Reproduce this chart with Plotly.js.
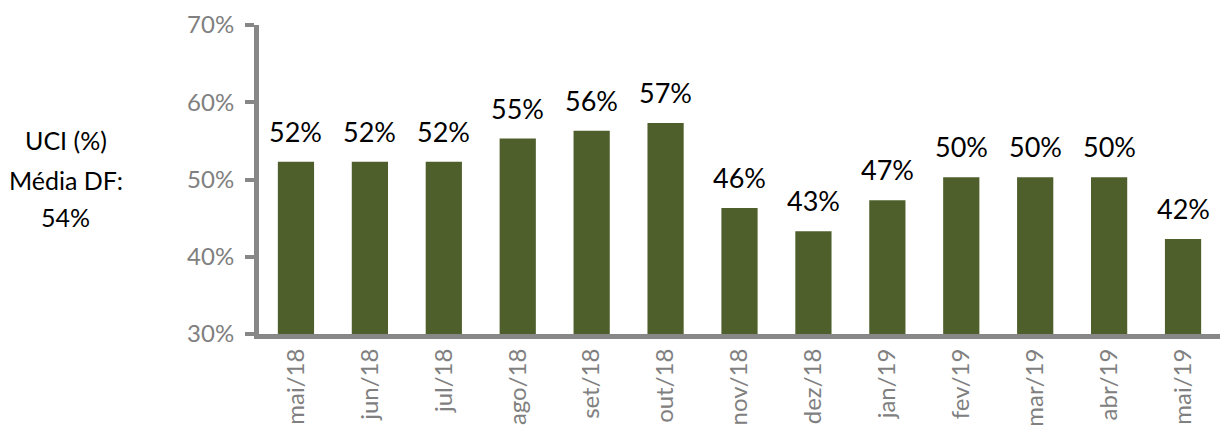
<!DOCTYPE html>
<html><head><meta charset="utf-8">
<script src="https://cdn.plot.ly/plotly-3.0.1.min.js"></script>
<style>html,body{margin:0;padding:0;background:#fff}#c{width:1220px;height:428px}</style>
</head><body><div id="c"></div>
<script>
const categories = ["mai/18","jun/18","jul/18","ago/18","set/18","out/18","nov/18","dez/18","jan/19","fev/19","mar/19","abr/19","mai/19"];
const uci = [52.3,52.3,52.3,55.3,56.3,57.3,46.3,43.3,47.3,50.3,50.3,50.3,42.3];
const labels = ["52%","52%","52%","55%","56%","57%","46%","43%","47%","50%","50%","50%","42%"];
const yTicks = [30,40,50,60,70];
const yTickText = ["30%","40%","50%","60%","70%"];
const sideLines = ["UCI (%)","Média DF:","54%"];

const font = "Lato, 'Open Sans', sans-serif";
const ann = categories.map((c,i)=>({x:c, y:uci[i], xref:'x', yref:'y', text:labels[i], showarrow:false,
  yanchor:'bottom', xanchor:'center', yshift:12, font:{family:font, size:27, color:'#000'}}));
const sideY = [0.628, 0.498, 0.379];
sideLines.forEach((t,i)=>ann.push({text:t, xref:'paper', yref:'paper', x:-0.201, y:sideY[i], xanchor:'center', yanchor:'middle',
    showarrow:false, align:'center', font:{family:font, size:25, color:'#000'}}));
Plotly.newPlot('c', [{
  type:'bar', x:categories, y:uci,
  marker:{color:'#4f5f2b'}, width:0.49, hoverinfo:'none'
}], {
  width:1220, height:428,
  margin:{l:259, r:0, t:25, b:94},
  paper_bgcolor:'#fff', plot_bgcolor:'#fff',
  showlegend:false,
  xaxis:{type:'category', tickangle:-90, tickfont:{family:font, size:24, color:'#808080'}, automargin:false,
    showline:true, linecolor:'#878787', linewidth:5, ticks:'', showgrid:false, zeroline:false},
  yaxis:{range:[30,70], tickvals:yTicks, ticktext:yTickText, tickfont:{family:font, size:24, color:'#808080'}, automargin:false,
    showline:true, linecolor:'#878787', linewidth:5, ticks:'outside', ticklen:9, tickwidth:4, tickcolor:'#878787',
    ticklabelstandoff:6, showgrid:false, zeroline:false},
  annotations:ann
}, {staticPlot:true});
</script></body></html>
